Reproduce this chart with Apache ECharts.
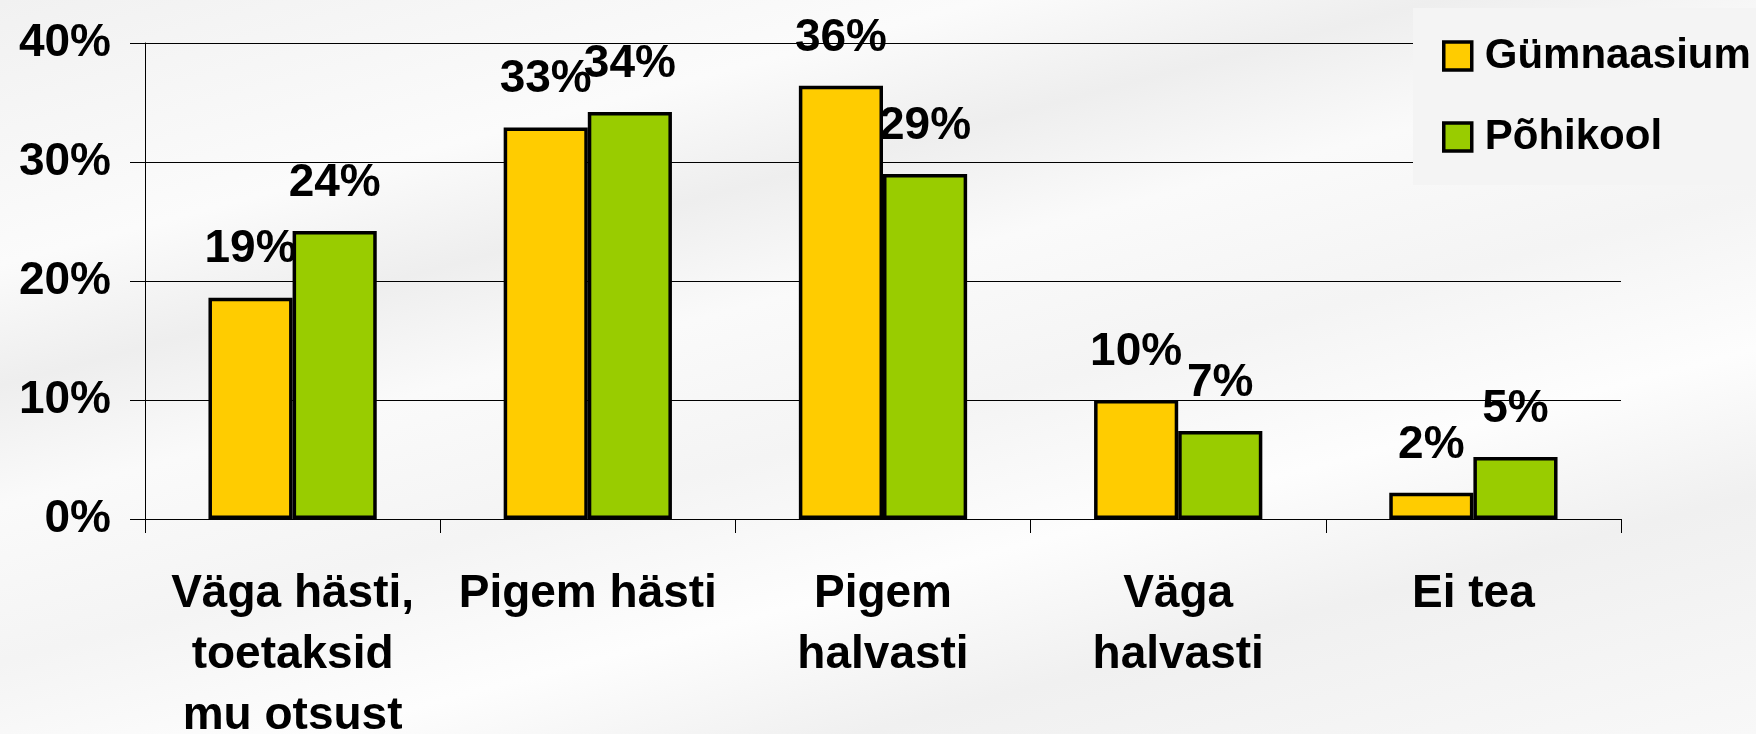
<!DOCTYPE html>
<html>
<head>
<meta charset="utf-8">
<script src="https://cdn.jsdelivr.net/npm/echarts@6/dist/echarts.min.js"></script>
<style>
  html, body { margin: 0; padding: 0; }
  body {
    width: 1756px; height: 734px; overflow: hidden;
    background: linear-gradient(165deg, #f1f1f1 0%, #fbfbfb 22%, #eeeeee 32%, #fafafa 42%, #f4f4f4 55%, #fdfdfd 68%, #f0f0f0 80%, #f8f8f8 100%);
  }
  #main { width: 1756px; height: 734px; }
</style>
</head>
<body>
<div id="main"></div>
<script>
// kategooriad ja väärtused (%)
const categories = ['Väga hästi,\ntoetaksid\nmu otsust', 'Pigem hästi', 'Pigem\nhalvasti', 'Väga\nhalvasti', 'Ei tea']
const gymnaasium = [18.6, 32.9, 36.4, 10.0, 2.2]
const pohikool = [24.2, 34.2, 29.0, 7.4, 5.2]
const yTicks = [0, 10, 20, 30, 40]

const font = 'Liberation Sans, Arial, sans-serif'

const chartDom = document.getElementById('main')
const myChart = echarts.init(chartDom)

const labelStyle = {
  show: true,
  position: 'top',
  distance: 25,
  fontFamily: font,
  fontWeight: 'bold',
  fontSize: 46,
  lineHeight: 46,
  color: '#000',
  formatter: (p) => Math.round(p.value) + '%',
}

const option = {
  animation: false,
  textStyle: { fontFamily: font },
  grid: { left: 145, right: 135, top: 43, bottom: 215, outerBoundsMode: 'none' },
  legend: {
    orient: 'vertical',
    left: 1413,
    top: 8,
    padding: [26, 40, 26, 29],
    itemGap: 37,
    itemWidth: 28,
    itemHeight: 28,
    icon: 'rect',
    backgroundColor: '#f4f4f4',
    itemStyle: { borderColor: '#000', borderWidth: 3.5 },
    textStyle: {
      fontFamily: font,
      fontWeight: 'bold',
      fontSize: 42,
      lineHeight: 44,
      color: '#000',
      padding: [0, 0, 0, 8],
    },
    data: ['Gümnaasium', 'Põhikool'],
  },
  xAxis: {
    type: 'category',
    data: categories,
    axisLine: { lineStyle: { color: '#000', width: 1 } },
    axisTick: { show: true, length: 14, lineStyle: { color: '#000' } },
    axisLabel: {
      interval: 0,
      margin: 45,
      fontFamily: font,
      fontWeight: 'bold',
      fontSize: 46,
      lineHeight: 61,
      color: '#000',
      align: 'center',
    },
  },
  yAxis: {
    type: 'value',
    min: yTicks[0],
    max: yTicks[yTicks.length - 1],
    interval: 10,
    axisLine: { show: true, lineStyle: { color: '#000', width: 1 } },
    axisTick: { show: true, length: 15, lineStyle: { color: '#000' } },
    splitLine: { lineStyle: { color: '#000', width: 1 } },
    axisLabel: {
      margin: 34,
      fontFamily: font,
      fontWeight: 'bold',
      fontSize: 46,
      color: '#000',
      formatter: '{value}%',
    },
  },
  series: [
    {
      name: 'Gümnaasium',
      type: 'bar',
      data: gymnaasium,
      barWidth: '28.5%',
      barGap: '0%',
      itemStyle: { color: '#ffcc00', borderColor: '#000', borderWidth: 3.5 },
      label: labelStyle,
    },
    {
      name: 'Põhikool',
      type: 'bar',
      data: pohikool,
      barWidth: '28.5%',
      itemStyle: { color: '#99cc00', borderColor: '#000', borderWidth: 3.5 },
      label: labelStyle,
    },
  ],
}

option && myChart.setOption(option)
</script>
</body>
</html>
